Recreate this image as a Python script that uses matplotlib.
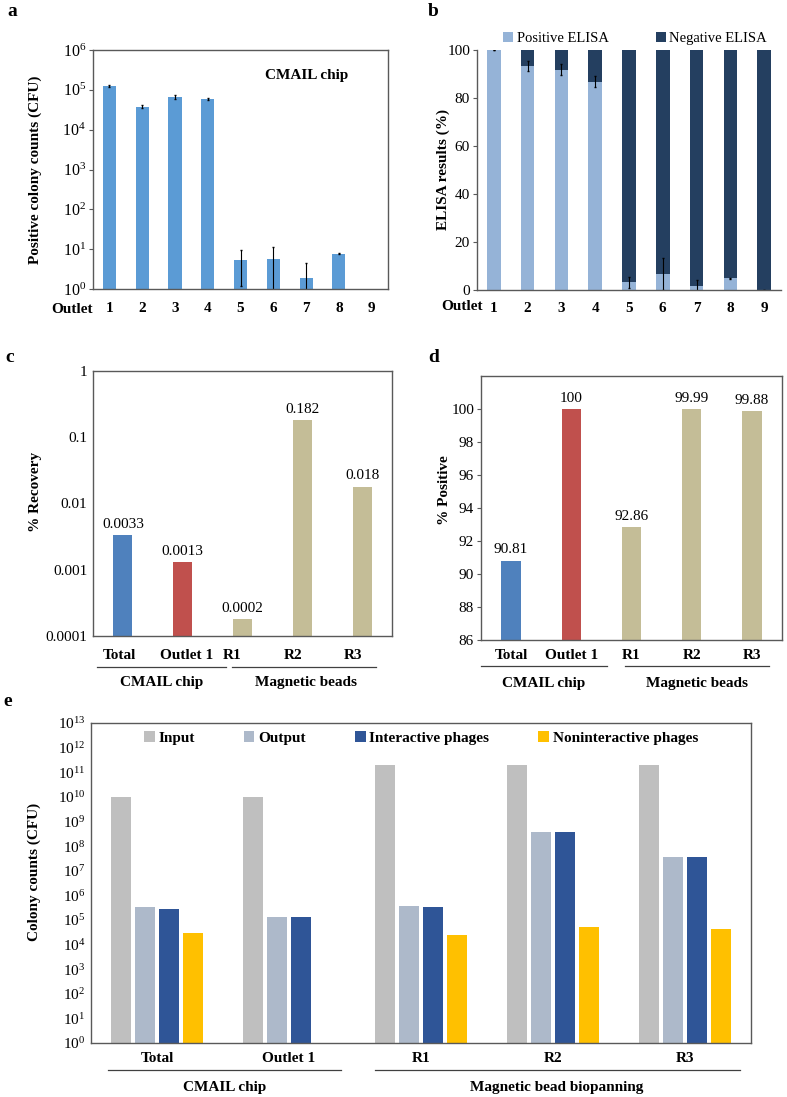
import numpy as np
import matplotlib
matplotlib.use("Agg")
import matplotlib.pyplot as plt
from matplotlib.lines import Line2D

# -----------------------------
# Data
# -----------------------------

outlets = ["1", "2", "3", "4", "5", "6", "7", "8", "9"]
cfu_counts = [1.25e5, 3.8e4, 6.6e4, 5.9e4, 5.4, 5.8, 1.9, 7.7, 0]
cfu_err = [1.0e4, 3.0e3, 7.0e3, 4.0e3, 4.2, 5.5, 2.7, 0.3, 0]

elisa_pos = [100, 93.3, 91.8, 86.8, 3.2, 6.7, 1.7, 4.9, 0]
elisa_neg = [100 - v for v in elisa_pos]
elisa_err = [0, 2.2, 2.4, 2.4, 2.4, 6.5, 2.6, 0.3, 0]

methods = ["Total", "Outlet 1", "R1", "R2", "R3"]
method_colors = ["#4F81BD", "#C0504D", "#C4BD97", "#C4BD97", "#C4BD97"]
recovery = [0.0033, 0.0013, 0.00018, 0.182, 0.018]
recovery_labels = ["0.0033", "0.0013", "0.0002", "0.182", "0.018"]
positive = [90.81, 100, 92.86, 99.99, 99.88]
positive_labels = ["90.81", "100", "92.86", "99.99", "99.88"]

series_e = ["Input", "Output", "Interactive phages", "Noninteractive phages"]
colors_e = ["#BFBFBF", "#ADB9CA", "#2F5597", "#FFC000"]
input_e = [1e10, 1e10, 2e11, 2e11, 2e11]
output_e = [3.3e5, 1.27e5, 3.6e5, 3.6e8, 3.6e7]
interactive_e = [2.9e5, 1.27e5, 3.2e5, 3.6e8, 3.6e7]
noninteractive_e = [2.85e4, 0, 2.5e4, 5.3e4, 4.4e4]

# -----------------------------
# Style
# -----------------------------

plt.rcParams["font.family"] = ["Liberation Serif", "DejaVu Serif"]
plt.rcParams["mathtext.fontset"] = "custom"
plt.rcParams["mathtext.rm"] = "Liberation Serif"
plt.rcParams["mathtext.it"] = "Liberation Serif:italic"
plt.rcParams["mathtext.bf"] = "Liberation Serif:bold"
plt.rcParams["font.size"] = 11

W, H = 787, 1097
fig = plt.figure(figsize=(W / 100, H / 100), dpi=100)
spine_col = "#595959"


def px_axes(l, t, r, b):
    return fig.add_axes([l / W, 1 - b / H, (r - l) / W, (b - t) / H])


def style_box(ax):
    for s in ax.spines.values():
        s.set_color(spine_col)
        s.set_linewidth(1.0)
    ax.tick_params(axis="y", direction="out", length=3, color=spine_col,
                   labelsize=11, pad=2)
    ax.tick_params(axis="x", length=0)


def group_axis(ax, pos, labels, label_y, offsets, groups, line_y):
    for p, lab, o in zip(pos, labels, offsets):
        ax.text(p + o, label_y, lab, transform=ax.get_xaxis_transform(),
                ha="center", va="center", fontweight="bold", fontsize=11)
    for (x0, x1, name, xc, ty) in groups:
        ax.add_line(Line2D([x0, x1], [line_y, line_y], transform=ax.transAxes,
                           color="#404040", lw=0.9, clip_on=False))
        ax.text(xc, ty, name, transform=ax.transAxes, ha="center",
                va="center", fontweight="bold", fontsize=11)


# -----------------------------
# Panel a
# -----------------------------

ax_a = px_axes(93, 50, 388, 289)
x9 = np.arange(len(outlets))
ax_a.bar(x9, cfu_counts, width=0.4, color="#5B9BD5")
ax_a.errorbar(x9, cfu_counts, yerr=cfu_err, fmt="none", ecolor="black",
              elinewidth=0.8, capsize=1)
ax_a.set_yscale("log")
ax_a.set_ylim(1, 1e6)
ax_a.set_xlim(-0.5, 8.5)
ax_a.set_yticks([10.0 ** k for k in range(7)])
ax_a.set_yticklabels([f"$10^{{{k}}}$" for k in range(7)])
ax_a.minorticks_off()
ax_a.set_xticks(x9)
ax_a.set_xticklabels(outlets, fontweight="bold")
ax_a.tick_params(axis="x", pad=9)
style_box(ax_a)
ax_a.tick_params(axis="y", labelsize=11.5)
ax_a.text(-0.07, -0.085, "Outlet", transform=ax_a.transAxes, ha="center",
          va="center", fontweight="bold")
ax_a.text(0.725, 0.895, "CMAIL chip", transform=ax_a.transAxes, ha="center",
          va="center", fontweight="bold")
ax_a.set_ylabel("Positive colony counts (CFU)", fontweight="bold")
ax_a.yaxis.set_label_coords(-0.173, 0.5)

# -----------------------------
# Panel b
# -----------------------------

ax_b = px_axes(477, 50, 781, 290)
ax_b.bar(x9, elisa_pos, width=0.4, color="#95B3D7", label="Positive ELISA")
ax_b.bar(x9, elisa_neg, width=0.4, bottom=elisa_pos, color="#243F60",
         label="Negative ELISA")
ax_b.errorbar(x9, elisa_pos, yerr=elisa_err, fmt="none", ecolor="black",
              elinewidth=0.8, capsize=1)
ax_b.set_ylim(0, 100)
ax_b.set_xlim(-0.5, 8.5)
ax_b.set_yticks(range(0, 101, 20))
ax_b.set_xticks(x9)
ax_b.set_xticklabels(outlets, fontweight="bold")
ax_b.tick_params(axis="x", pad=9)
style_box(ax_b)
ax_b.spines["top"].set_visible(False)
ax_b.spines["right"].set_visible(False)
ax_b.text(-0.05, -0.07, "Outlet", transform=ax_b.transAxes, ha="center",
          va="center", fontweight="bold")
ax_b.set_ylabel("ELISA results (%)", fontweight="bold")
ax_b.yaxis.set_label_coords(-0.089, 0.5)
ax_b.legend(loc="center", bbox_to_anchor=(0.52, 1.048), ncol=2, frameon=False,
            handlelength=0.7, handleheight=0.7, handletextpad=0.25,
            columnspacing=3.2, fontsize=10.5, borderaxespad=0)

# -----------------------------
# Panel c
# -----------------------------

ax_c = px_axes(93, 371, 392, 636)
x5 = np.arange(len(methods))
ax_c.bar(x5, recovery, width=0.32, color=method_colors)
for xi, v, lab in zip(x5, recovery, recovery_labels):
    ax_c.annotate(lab, (xi, v), xytext=(0, 3), textcoords="offset points",
                  ha="center", va="bottom", fontsize=11)
ax_c.set_yscale("log")
ax_c.set_ylim(1e-4, 1)
ax_c.set_xlim(-0.5, 4.5)
ax_c.set_yticks([1e-4, 1e-3, 1e-2, 1e-1, 1])
ax_c.set_yticklabels(["0.0001", "0.001", "0.01", "0.1", "1"])
ax_c.minorticks_off()
ax_c.set_xticks([])
style_box(ax_c)
ax_c.tick_params(axis="y", length=0, pad=4)
ax_c.set_ylabel("% Recovery", fontweight="bold")
ax_c.yaxis.set_label_coords(-0.171, 0.543)
group_axis(ax_c, x5, methods, -0.072, [-0.05, 0.07, -0.17, -0.15, -0.15],
           [(0.013, 0.445, "CMAIL chip", 0.231, -0.177),
            (0.465, 0.948, "Magnetic beads", 0.712, -0.177)], -0.117)

# -----------------------------
# Panel d
# -----------------------------

ax_d = px_axes(481, 376, 782, 640)
ax_d.bar(x5, positive, width=0.32, color=method_colors)
for xi, v, lab in zip(x5, positive, positive_labels):
    ax_d.annotate(lab, (xi, v), xytext=(0, 3), textcoords="offset points",
                  ha="center", va="bottom", fontsize=11)
ax_d.set_ylim(86, 102)
ax_d.set_xlim(-0.5, 4.5)
ax_d.set_yticks(range(86, 101, 2))
ax_d.set_xticks([])
style_box(ax_d)
ax_d.set_ylabel("% Positive", fontweight="bold")
ax_d.yaxis.set_label_coords(-0.1, 0.568)
group_axis(ax_d, x5, methods, -0.057, [0, 0, 0, 0, 0],
           [(0.0, 0.42, "CMAIL chip", 0.209, -0.163),
            (0.478, 0.957, "Magnetic beads", 0.718, -0.163)], -0.099)

# -----------------------------
# Panel e
# -----------------------------

ax_e = px_axes(91, 723, 751, 1043)
series_vals = [input_e, output_e, interactive_e, noninteractive_e]
step = 0.182
for i, (name, vals, col) in enumerate(zip(series_e, series_vals, colors_e)):
    ax_e.bar(x5 + (i - 1.5) * step, vals, width=0.145, color=col, label=name)
ax_e.set_yscale("log")
ax_e.set_ylim(1, 1e13)
ax_e.set_xlim(-0.5, 4.5)
ax_e.set_yticks([10.0 ** k for k in range(14)])
ax_e.set_yticklabels([f"$10^{{{k}}}$" for k in range(14)])
ax_e.minorticks_off()
ax_e.set_xticks([])
style_box(ax_e)
ax_e.tick_params(axis="y", length=0, pad=4)
ax_e.set_ylabel("Colony counts (CFU)", fontweight="bold")
ax_e.yaxis.set_label_coords(-0.076, 0.534)
ax_e.legend(loc="center", bbox_to_anchor=(0.5, 0.953), ncol=4, frameon=False,
            handlelength=0.7, handleheight=0.7, handletextpad=0.25,
            columnspacing=3.2, prop={"weight": "bold", "size": 11},
            borderaxespad=0)
group_axis(ax_e, x5, methods, -0.047, [0, 0, 0, 0, 0],
           [(0.026, 0.379, "CMAIL chip", 0.203, -0.1375),
            (0.43, 0.983, "Magnetic bead biopanning", 0.705, -0.1375)], -0.084)

# -----------------------------
# Panel letters
# -----------------------------

for letter, (px, py) in zip("abcde", [(12, 12), (433, 12), (10, 358),
                                      (434, 357), (8, 701)]):
    fig.text(px / W, 1 - py / H, letter, fontweight="bold", fontsize=14,
             ha="center", va="center")

fig.savefig("out.png", dpi=100)
